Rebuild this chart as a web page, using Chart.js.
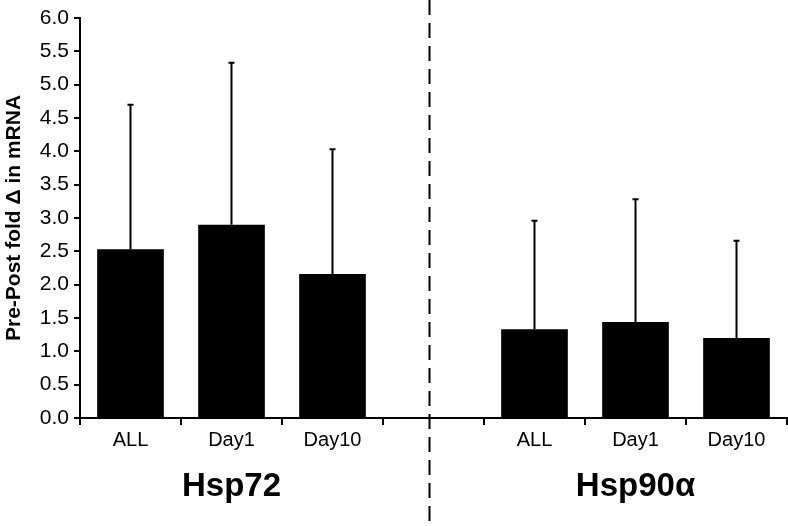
<!DOCTYPE html>
<html>
<head>
<meta charset="utf-8">
<script src="https://cdn.jsdelivr.net/npm/chart.js@4.4.1/dist/chart.umd.min.js"></script>
<style>
html,body{margin:0;padding:0;background:#fff;}
#wrap{width:788px;height:526px;}
</style>
</head>
<body>
<div id="wrap"><canvas id="c" width="788" height="526"></canvas></div>
<script>
const categories = ["ALL", "Day1", "Day10", "", "ALL", "Day1", "Day10"];
const meanValues = [2.53, 2.90, 2.16, null, 1.33, 1.44, 1.20];
const upperErrors = [4.70, 5.33, 4.03, null, 2.96, 3.28, 2.66];
const groupLabels = ["Hsp72", "Hsp90α"];
const groupCenterIndex = [1, 5];
const dividerIndex = 3;
const yTicks = [0, 0.5, 1, 1.5, 2, 2.5, 3, 3.5, 4, 4.5, 5, 5.5, 6];

const FONT = '"Liberation Sans", Arial, sans-serif';

const overlay = {
  id: 'overlay',
  afterDatasetsDraw(chart) {
    const ctx = chart.ctx, x = chart.scales.x, y = chart.scales.y;
    ctx.save();
    ctx.strokeStyle = '#000';
    ctx.lineWidth = 2;
    meanValues.forEach((v, i) => {
      if (v == null) return;
      const px = x.getPixelForValue(i);
      const y0 = y.getPixelForValue(v);
      const y1 = y.getPixelForValue(upperErrors[i]);
      ctx.beginPath();
      ctx.moveTo(px, y0); ctx.lineTo(px, y1);
      ctx.moveTo(px - 3, y1); ctx.lineTo(px + 3, y1);
      ctx.stroke();
    });
    const dx = x.getPixelForValue(dividerIndex) - 4;
    ctx.setLineDash([15, 8]);
    ctx.beginPath();
    ctx.moveTo(dx, 0); ctx.lineTo(dx, chart.height);
    ctx.stroke();
    ctx.setLineDash([]);
    ctx.fillStyle = '#000';
    ctx.font = 'bold 33px ' + FONT;
    ctx.textAlign = 'center';
    ctx.textBaseline = 'alphabetic';
    groupLabels.forEach((g, k) => {
      ctx.fillText(g, x.getPixelForValue(groupCenterIndex[k]), y.bottom + 78);
    });
    ctx.restore();
  }
};

new Chart(document.getElementById('c'), {
  type: 'bar',
  data: {
    labels: categories,
    datasets: [{
      data: meanValues,
      backgroundColor: '#000',
      borderColor: '#000',
      borderWidth: 0,
      barPercentage: 0.66,
      categoryPercentage: 1.0
    }]
  },
  options: {
    responsive: false,
    animation: false,
    events: [],
    layout: { padding: { top: 18, right: 1, left: 0, bottom: 0 } },
    plugins: { legend: { display: false }, tooltip: { enabled: false } },
    scales: {
      x: {
        offset: true,
        grid: { display: true, offset: true, drawOnChartArea: false, drawTicks: true, tickLength: 7, color: '#000', lineWidth: 2 },
        border: { display: true, color: '#000', width: 2 },
        ticks: { color: '#000', font: { family: FONT, size: 20 }, padding: 3, maxRotation: 0, autoSkip: false },
        afterFit(s) { s.height = 108; }
      },
      y: {
        min: 0, max: 6,
        afterBuildTicks(s) { s.ticks = yTicks.map(v => ({ value: v })); },
        grid: { display: true, drawOnChartArea: false, drawTicks: true, tickLength: 6, color: '#000', lineWidth: 2 },
        border: { display: true, color: '#000', width: 2 },
        ticks: { color: '#000', font: { family: FONT, size: 21 }, padding: 5, callback: v => Number(v).toFixed(1) },
        title: { display: true, text: 'Pre-Post fold Δ in mRNA', color: '#000', font: { family: FONT, size: 21, weight: 'bold' }, padding: { top: 2, bottom: 4 } },
        afterFit(s) { s.width = 80; }
      }
    }
  },
  plugins: [overlay]
});
</script>
</body>
</html>
